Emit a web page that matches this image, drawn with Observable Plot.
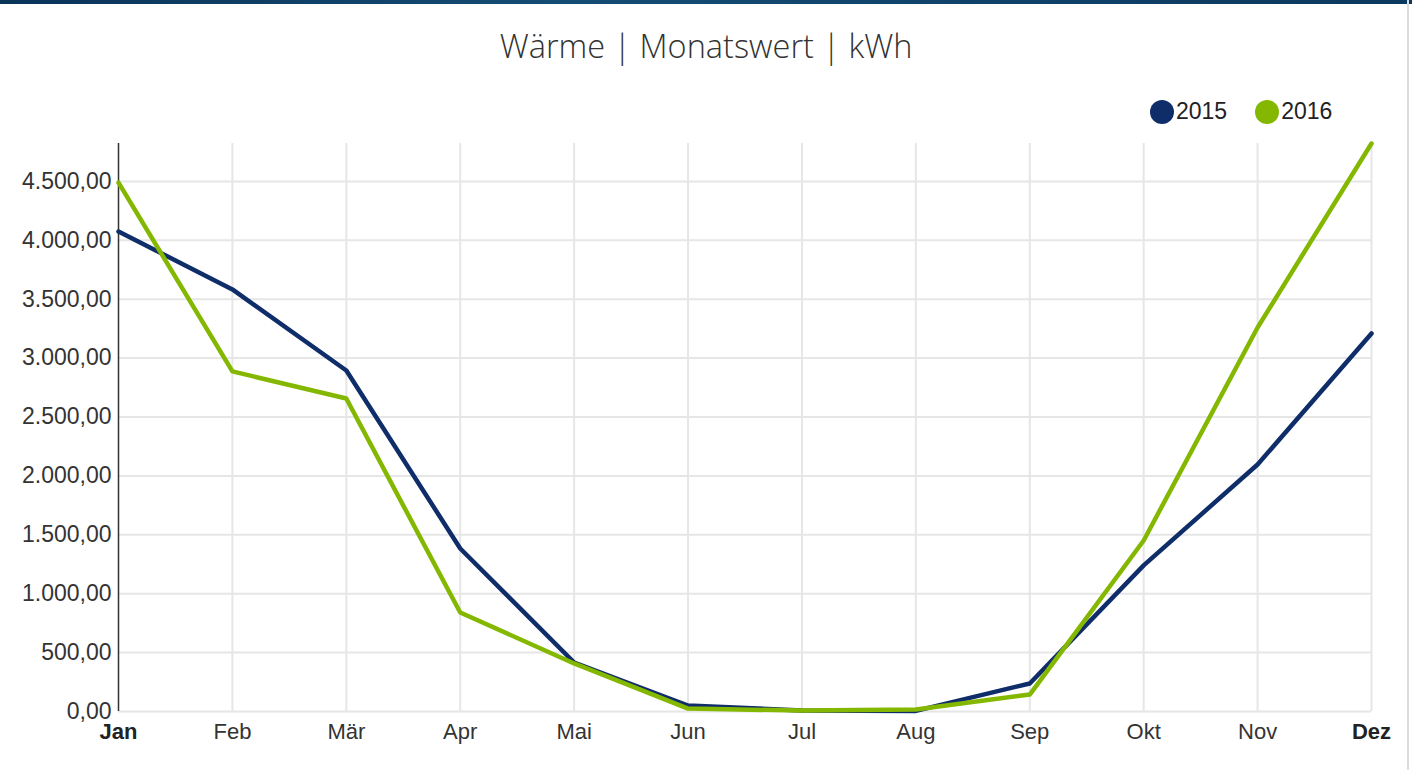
<!DOCTYPE html>
<html>
<head>
<meta charset="utf-8">
<script src="https://cdn.jsdelivr.net/npm/d3@7"></script>
<script src="https://cdn.jsdelivr.net/npm/@observablehq/plot@0.6"></script>
<style>
  html, body { margin: 0; padding: 0; background: #fff; }
  #wrap { position: relative; width: 1412px; height: 770px; overflow: hidden; }
  #topbar { position: absolute; left: 0; top: 0; width: 1412px; height: 4px; background: linear-gradient(90deg, #0a3358, #154c74 40%, #0b385e); }
  #rightbar { position: absolute; left: 1407px; top: 0; width: 2px; height: 770px; background: #dcdcdc; }
  #title { position: absolute; left: 0; top: 23px; width: 1412px; text-align: center; font-family: "Open Sans", sans-serif; font-weight: 300; font-size: 32.5px; color: #333; line-height: 46px; }
  #legend { position: absolute; top: 98px; left: 1150px; font-family: "Liberation Sans", Arial, sans-serif; font-size: 23px; color: #222; display: flex; gap: 28px; }
  .item { display: flex; align-items: center; }
  .dot { width: 24px; height: 24px; border-radius: 50%; margin-right: 2px; }
  #chart { position: absolute; left: 0; top: 130px; }
</style>
</head>
<body>
<div id="wrap">
  <div id="topbar"></div>
  <div id="rightbar"></div>
  <div id="title">Wärme | Monatswert | kWh</div>
  <div id="legend"></div>
  <div id="chart"></div>
</div>
<script>
const months = ["Jan","Feb","Mär","Apr","Mai","Jun","Jul","Aug","Sep","Okt","Nov","Dez"];
const seriesNames = ["2015", "2016"];
const seriesColors = ["#0f2d69", "#84b800"];
const values2015 = [4075, 3583, 2895, 1384, 416, 51, 8, 5, 238, 1240, 2097, 3209];
const values2016 = [4490, 2887, 2657, 840, 408, 25, 8, 17, 144, 1452, 3260, 4822];
const yTicks = [0, 500, 1000, 1500, 2000, 2500, 3000, 3500, 4000, 4500];

const data = [];
[values2015, values2016].forEach((vals, s) => {
  vals.forEach((v, i) => data.push({series: seriesNames[s], month: months[i], value: v}));
});

const de = d3.formatLocale({decimal: ",", thousands: ".", grouping: [3], currency: ["", "€"]});
const fmt = de.format(",.2f");
const yMax = d3.max(data, d => d.value);

const legend = document.getElementById("legend");
seriesNames.forEach((n, i) => {
  const it = document.createElement("div");
  it.className = "item";
  it.innerHTML = `<span class="dot" style="background:${seriesColors[i]}"></span><span>${n}</span>`;
  legend.appendChild(it);
});

const chart = Plot.plot({
  width: 1412,
  height: 640,
  marginLeft: 118,
  marginRight: 41,
  marginTop: 13,
  marginBottom: 59,
  style: {fontFamily: "'Liberation Sans', Arial, sans-serif", color: "#333", background: "transparent"},
  x: {type: "point", domain: months, padding: 0, round: false},
  y: {domain: [0, yMax]},
  color: {domain: seriesNames, range: seriesColors},
  marks: [
    Plot.gridY(yTicks, {stroke: "#e6e6e6", strokeOpacity: 1, strokeWidth: 2}),
    Plot.gridX(months.slice(1), {stroke: "#e6e6e6", strokeOpacity: 1, strokeWidth: 2}),
    Plot.ruleX([months[0]], {stroke: "#333", strokeWidth: 1.5}),
    Plot.axisY(yTicks, {tickSize: 0, tickPadding: 7, tickFormat: fmt, fontSize: 23, fill: "#333", label: null}),
    Plot.axisX(months.slice(1, 11), {tickSize: 0, tickPadding: 12, fontSize: 22, fill: "#333", label: null}),
    Plot.axisX([months[0], months[11]], {tickSize: 0, tickPadding: 12, fontSize: 22, fontWeight: "bold", fill: "#222", label: null}),
    Plot.line(data, {x: "month", y: "value", z: "series", stroke: "series", strokeWidth: 4.5, strokeLinejoin: "round", strokeLinecap: "round"})
  ]
});
document.getElementById("chart").appendChild(chart);
</script>
</body>
</html>
